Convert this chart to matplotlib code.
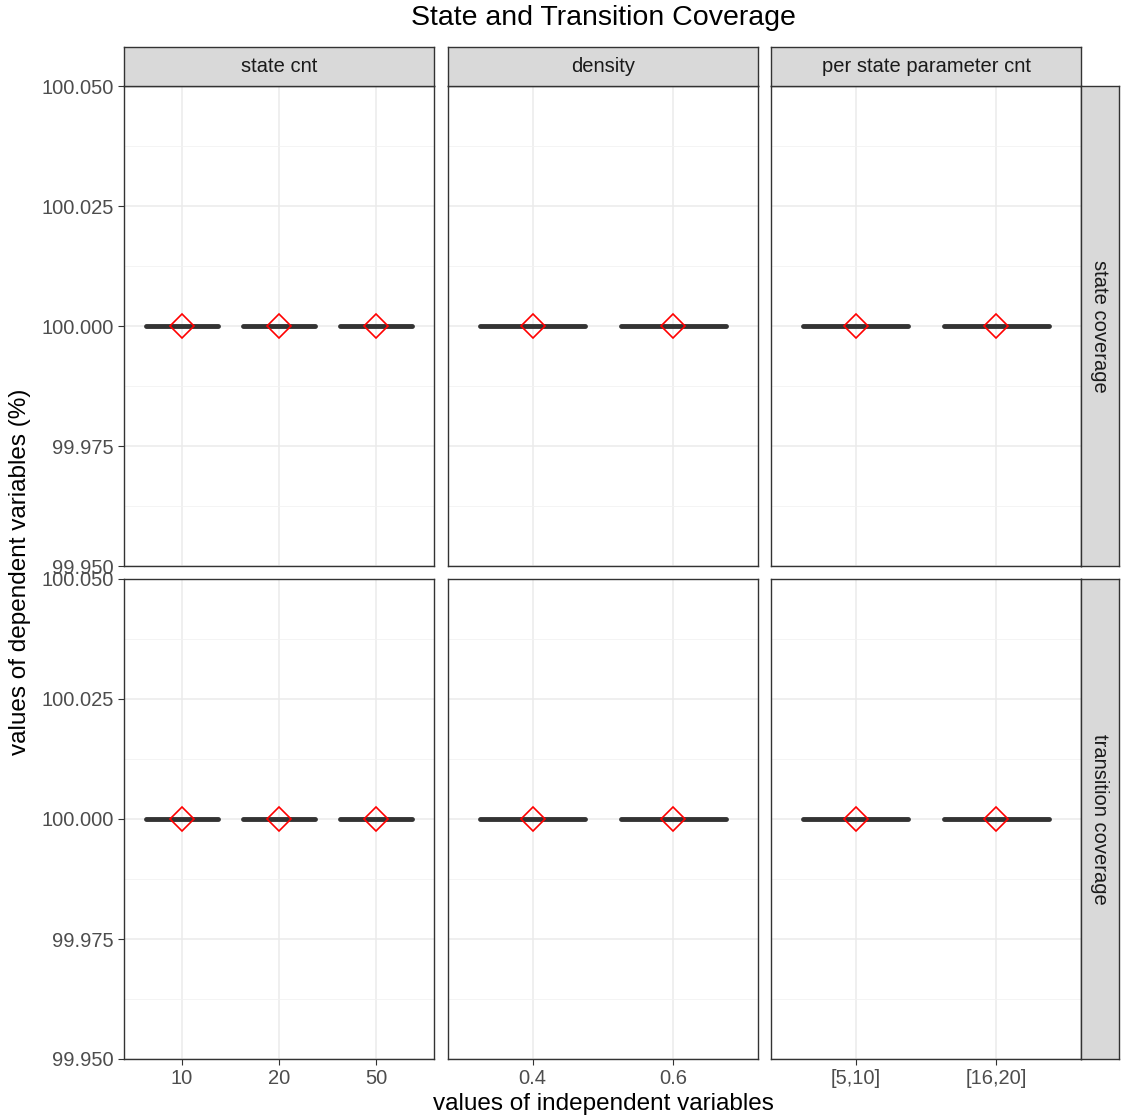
#!/usr/bin/env python3
# State and Transition Coverage - facet boxplots

import matplotlib
matplotlib.use("Agg")
import matplotlib.pyplot as plt
from matplotlib.ticker import MultipleLocator, FixedLocator

plt.rcParams['font.family'] = ['Liberation Sans', 'DejaVu Sans']

# column facets and their levels
col_facets = ["state cnt", "density", "per state parameter cnt"]
state_cnt_levels = ["10", "20", "50"]
density_levels = ["0.4", "0.6"]
param_cnt_levels = ["[5,10]", "[16,20]"]
levels = [state_cnt_levels, density_levels, param_cnt_levels]

# row facets
row_facets = ["state coverage", "transition coverage"]

# coverage values (%) per level
state_cov_state_cnt = [100.0, 100.0, 100.0]
state_cov_density = [100.0, 100.0]
state_cov_param_cnt = [100.0, 100.0]
trans_cov_state_cnt = [100.0, 100.0, 100.0]
trans_cov_density = [100.0, 100.0]
trans_cov_param_cnt = [100.0, 100.0]
values = [
    [state_cov_state_cnt, state_cov_density, state_cov_param_cnt],
    [trans_cov_state_cnt, trans_cov_density, trans_cov_param_cnt],
]

y_ticks = [99.950, 99.975, 100.000, 100.025, 100.050]

W, H = 1122, 1120
fig = plt.figure(figsize=(W / 100, H / 100), dpi=100)

col_x = [(124, 434), (448, 758), (771, 1081)]
row_y = [(86, 566), (579, 1059)]
dark = "#333333"
grey_txt = "#4D4D4D"


def fx(px):
    return px / W


def fy(py):
    return 1 - py / H


for r in range(2):
    for c in range(3):
        x0, x1 = col_x[c]
        y0, y1 = row_y[r]
        ax = fig.add_axes([fx(x0), fy(y1), fx(x1 - x0), (y1 - y0) / H])
        labs = levels[c]
        vals = values[r][c]
        n = len(labs)
        pos = list(range(1, n + 1))
        ax.set_axisbelow(True)
        ax.boxplot([[v] for v in vals], positions=pos, widths=0.75,
                   showmeans=True, showfliers=False, whis=0,
                   boxprops=dict(color=dark, linewidth=1),
                   medianprops=dict(color=dark, linewidth=3.5, solid_capstyle='round'),
                   whiskerprops=dict(color=dark, linewidth=0),
                   capprops=dict(linewidth=0),
                   meanprops=dict(marker='D', markerfacecolor='none',
                                  markeredgecolor='red', markersize=12,
                                  markeredgewidth=1.2))
        ax.set_xlim(0.4, n + 0.6)
        ax.set_ylim(99.95, 100.05)
        ax.yaxis.set_major_locator(FixedLocator(y_ticks))
        ax.yaxis.set_minor_locator(MultipleLocator(0.0125))
        ax.set_xticks(pos)
        ax.grid(True, which='major', color='#EBEBEB', linewidth=1.1)
        ax.grid(True, which='minor', axis='y', color='#F2F2F2', linewidth=0.6)
        ax.tick_params(which='minor', length=0)
        ax.tick_params(which='major', length=4, color=dark, width=0.8,
                       labelsize=14.5, labelcolor=grey_txt)
        for s in ax.spines.values():
            s.set_color(dark)
            s.set_linewidth(1.0)
        if c == 0:
            ax.set_yticklabels(["%.3f" % t for t in y_ticks])
        else:
            ax.tick_params(axis='y', length=0, labelleft=False)
        if r == 1:
            ax.set_xticklabels(labs)
        else:
            ax.tick_params(axis='x', length=0, labelbottom=False)

# top strips
for c in range(3):
    x0, x1 = col_x[c]
    sa = fig.add_axes([fx(x0), fy(86), fx(x1 - x0), 39 / H])
    sa.set_facecolor('#D9D9D9')
    sa.set_xticks([])
    sa.set_yticks([])
    for s in sa.spines.values():
        s.set_color(dark)
        s.set_linewidth(1.0)
    sa.text(0.5, 0.5, col_facets[c], ha='center', va='center', fontsize=14.5,
            color='#1A1A1A', transform=sa.transAxes)

# right strips
for r in range(2):
    y0, y1 = row_y[r]
    sa = fig.add_axes([fx(1081), fy(y1), fx(38), (y1 - y0) / H])
    sa.set_facecolor('#D9D9D9')
    sa.set_xticks([])
    sa.set_yticks([])
    for s in sa.spines.values():
        s.set_color(dark)
        s.set_linewidth(1.0)
    sa.text(0.5, 0.5, row_facets[r], ha='center', va='center', fontsize=14.5,
            rotation=-90, color='#1A1A1A', transform=sa.transAxes)

fig.text(fx(603), fy(18), "State and Transition Coverage", ha='center',
         va='center', fontsize=20.5)
fig.text(fx(603), fy(1104), "values of independent variables", ha='center',
         va='center', fontsize=17.5)
fig.text(fx(20), fy(572), "values of dependent variables (%)", ha='center',
         va='center', fontsize=17.5, rotation=90)

fig.savefig("out.png", dpi=100)
